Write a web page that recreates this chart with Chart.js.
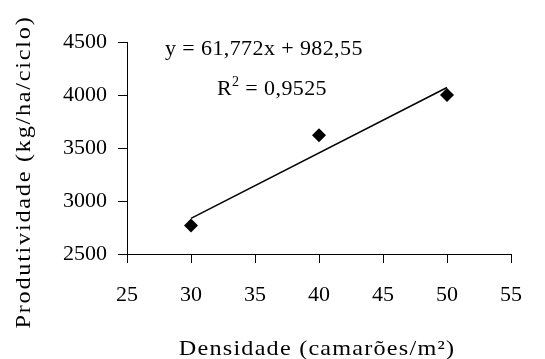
<!DOCTYPE html>
<html>
<head>
<meta charset="utf-8">
<script src="https://cdn.jsdelivr.net/npm/chart.js@4"></script>
<style>
  html, body { margin: 0; padding: 0; background: #fff; }
</style>
</head>
<body>
<canvas id="chart" width="545" height="359"></canvas>
<script>
// observed points
const densidade = [30, 40, 50];
const produtividade = [2770, 3620, 4000];

// linear trend line (ends of the drawn segment)
const trendX = [30, 50];
const trendY = [2836, 4071];

const xTicks = [25, 30, 35, 40, 45, 50, 55];
const yTicks = [2500, 3000, 3500, 4000, 4500];

const equationText = "y = 61,772x + 982,55";
const r2Text = " = 0,9525";
const xTitle = "Densidade (camarões/m²)";
const yTitle = "Produtividade (kg/ha/ciclo)";

const FONT = "'Liberation Serif', 'Times New Roman', serif";

// draws the equation, R² and both axis titles
const textPlugin = {
  id: 'textPlugin',
  afterDraw(chart) {
    const ctx = chart.ctx;
    const area = chart.chartArea;
    ctx.save();
    ctx.fillStyle = '#000';
    ctx.textBaseline = 'alphabetic';
    ctx.textAlign = 'left';

    ctx.font = '22px ' + FONT;
    ctx.letterSpacing = '0.4px';
    ctx.fillText(equationText, area.left + 38, area.top + 13);

    let x = area.left + 90;
    const y = area.top + 53;
    ctx.fillText('R', x, y);
    x += ctx.measureText('R').width;
    ctx.font = '14px ' + FONT;
    ctx.fillText('2', x, y - 9);
    x += ctx.measureText('2').width;
    ctx.font = '22px ' + FONT;
    ctx.fillText(r2Text, x, y);

    // x title, a little wider like the original serif
    ctx.textAlign = 'center';
    ctx.letterSpacing = '1.1px';
    ctx.save();
    ctx.translate((area.left + area.right) / 2 - 2, chart.height - 4);
    ctx.scale(1.1, 1);
    ctx.fillText(xTitle, 0, 0);
    ctx.restore();

    // y title
    ctx.letterSpacing = '1.6px';
    ctx.translate(30, (area.top + area.bottom) / 2 + 24);
    ctx.rotate(-Math.PI / 2);
    ctx.scale(1.1, 1);
    ctx.fillText(yTitle, 0, 0);
    ctx.restore();
  }
};

const ctx = document.getElementById('chart').getContext('2d');
new Chart(ctx, {
  type: 'scatter',
  data: {
    datasets: [
      {
        label: 'Produtividade',
        data: densidade.map((d, i) => ({ x: d, y: produtividade[i] })),
        pointStyle: 'rectRot',
        pointRadius: 7,
        pointBackgroundColor: '#000',
        pointBorderColor: '#000',
        pointBorderWidth: 0,
        showLine: false
      },
      {
        label: 'Linear',
        data: trendX.map((d, i) => ({ x: d, y: trendY[i] })),
        showLine: true,
        borderColor: '#000',
        borderWidth: 1.5,
        pointRadius: 0
      }
    ]
  },
  options: {
    responsive: false,
    animation: false,
    layout: { padding: { top: 42, right: 34, left: 0, bottom: 0 } },
    plugins: {
      legend: { display: false },
      tooltip: { enabled: false }
    },
    scales: {
      x: {
        type: 'linear',
        min: 25,
        max: 55,
        afterBuildTicks: (s) => { s.ticks = xTicks.map(v => ({ value: v })); },
        afterFit: (s) => { s.height = 105; },
        grid: { drawOnChartArea: false, drawTicks: true, tickLength: 9, color: '#000' },
        border: { color: '#000', width: 1 },
        ticks: { color: '#000', padding: 19, font: { family: FONT, size: 22 }, callback: v => String(v) }
      },
      y: {
        type: 'linear',
        min: 2500,
        max: 4500,
        afterBuildTicks: (s) => { s.ticks = yTicks.map(v => ({ value: v })); },
        afterFit: (s) => { s.width = 127; },
        grid: { drawOnChartArea: false, drawTicks: true, tickLength: 9, color: '#000' },
        border: { color: '#000', width: 1 },
        ticks: { color: '#000', padding: 11, font: { family: FONT, size: 22 }, callback: v => String(v) }
      }
    }
  },
  plugins: [textPlugin]
});
</script>
</body>
</html>
